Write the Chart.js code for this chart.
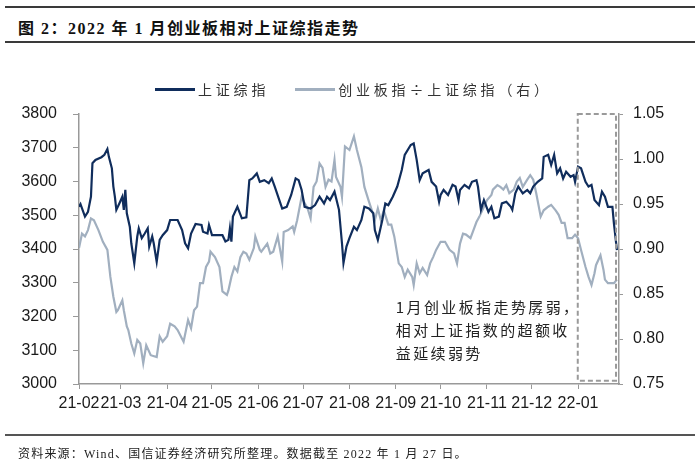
<!DOCTYPE html>
<html lang="zh">
<head>
<meta charset="UTF-8">
<title>创业板相对上证综指走势</title>
<style>
  body { margin:0; background:#fff; }
  #wrap { position:relative; width:700px; height:464px; overflow:hidden; }
  #myChart { position:absolute; left:0; top:0; }
  .rule { position:absolute; left:5px; width:690px; background:#3a3a3a; }
  #title { position:absolute; left:18px; top:15px; font:bold 16px "Liberation Serif","Noto Sans CJK SC",serif; letter-spacing:1.5px; color:#111; white-space:nowrap; }
  #footer { position:absolute; left:18px; top:444px; font:12px "Liberation Serif","Noto Sans CJK SC",serif; letter-spacing:1.2px; color:#222; white-space:nowrap; }
  #legend { position:absolute; left:155px; top:79px; display:flex; align-items:center; font:14px "Noto Sans CJK SC",sans-serif; letter-spacing:3.8px; color:#333; white-space:nowrap; }
  #legend .item { display:flex; align-items:center; margin-right:26px; }
  #legend .swatch { width:40px; height:3px; margin-right:3px; }
</style>
</head>
<body>
<div id="wrap">
  <div class="rule" style="top:6px;height:2px"></div>
  <div id="title">图 2：2022 年 1 月创业板相对上证综指走势</div>
  <div class="rule" style="top:41px;height:1.5px"></div>
  <canvas id="myChart" width="700" height="464"></canvas>
  <div id="legend"></div>
  <div class="rule" style="top:434px;height:1.5px;background:#555"></div>
  <div id="footer">资料来源：Wind、国信证券经济研究所整理。数据截至 2022 年 1 月 27 日。</div>
</div>

<script src="https://cdn.jsdelivr.net/npm/chart.js@4.4.1/dist/chart.umd.min.js"></script>
<script>
// x = 2021-02-01 起算的天数
var monthDays   = [0, 28, 59, 89, 120, 150, 181, 212, 242, 273, 303, 334];
var monthLabels = ['21-02','21-03','21-04','21-05','21-06','21-07','21-08','21-09','21-10','21-11','21-12','22-01'];
var xMax = 361.4;

// 上证综指
var szDays = [0,1,4,6,8,9,11,15,17,19,
  20,22,23,24,25,27,29,30,31,32,
  34,35,37,39,40,42,44,46,47,49,
  50,52,54,56,59,61,66,69,71,73,
  75,78,82,83,86,87,89,96,98,100,
  101,102,103,106,109,112,114,116,119,121,
  124,127,129,131,136,139,142,145,147,149,
  151,155,158,161,164,166,168,171,174,176,
  177,179,181,184,186,189,191,194,197,198,
  200,203,205,207,210,213,216,218,222,224,
  226,228,230,234,236,239,241,242,244,247,
  250,252,254,255,258,261,263,266,267,269,
  271,274,276,278,281,283,286,289,290,292,
  294,297,300,302,304,307,310,311,314,316,
  318,320,322,324,326,329,331,332,334,336,
  339,341,343,345,348,350,352,354,357,358,
  359,360];
var szVals = [3525,3533,3496,3510,3555,3654,3664,3672,3679,3696,
  3673,3639,3585,3555,3516,3535,3555,3516,3575,3506,
  3466,3417,3358,3437,3461,3432,3446,3461,3407,3437,
  3417,3362,3427,3441,3456,3486,3486,3456,3417,3402,
  3446,3474,3471,3451,3446,3471,3441,3441,3422,3427,
  3461,3422,3496,3525,3491,3494,3604,3609,3624,3599,
  3604,3595,3609,3585,3520,3525,3560,3609,3604,3575,
  3525,3520,3530,3555,3535,3555,3545,3570,3516,3417,
  3358,3407,3432,3466,3456,3486,3525,3520,3506,3456,
  3427,3486,3535,3530,3555,3585,3634,3679,3708,3713,
  3664,3604,3624,3634,3599,3585,3540,3560,3575,3560,
  3590,3585,3545,3575,3590,3580,3599,3604,3585,3516,
  3545,3510,3525,3491,3496,3535,3540,3525,3516,3565,
  3585,3565,3575,3565,3585,3599,3609,3673,3679,3649,
  3679,3624,3639,3609,3629,3614,3619,3599,3644,3639,
  3599,3585,3590,3545,3530,3570,3555,3525,3525,3476,
  3437,3397];

// 创业板指 ÷ 上证综指（右轴）
var ratioDays = [0,2,4,6,8,10,13,16,19,21,
  23,25,26,29,30,32,33,35,37,39,
  41,43,45,48,52,54,56,59,61,64,
  66,70,73,75,77,79,81,83,85,87,
  88,91,94,96,99,100,102,104,106,108,
  110,112,114,117,118,121,122,126,128,130,
  133,136,137,140,143,144,146,149,151,153,
  155,157,159,161,163,165,167,169,171,172,
  175,176,178,181,184,186,189,191,194,196,
  198,200,202,204,207,209,211,214,216,218,
  220,223,224,226,228,230,233,235,237,239,
  242,245,248,251,253,255,257,259,262,264,
  266,268,271,273,276,277,280,282,284,286,
  288,291,293,295,297,300,302,304,306,309,
  311,314,316,319,321,323,325,327,330,332,
  334,336,339,341,343,345,346,349,351,352,
  354,358,360];
var ratioVals = [0.901,0.917,0.914,0.921,0.934,0.932,0.921,0.908,0.899,0.869,
  0.847,0.830,0.832,0.843,0.832,0.814,0.810,0.795,0.784,0.799,
  0.795,0.773,0.793,0.782,0.780,0.803,0.797,0.803,0.817,0.814,
  0.810,0.797,0.821,0.812,0.832,0.836,0.862,0.862,0.880,0.886,
  0.897,0.891,0.880,0.853,0.849,0.854,0.869,0.880,0.875,0.891,
  0.897,0.895,0.888,0.901,0.914,0.899,0.897,0.906,0.895,0.897,
  0.914,0.886,0.919,0.921,0.925,0.919,0.932,0.958,0.951,0.945,
  0.934,0.969,0.975,0.995,0.990,0.969,0.977,0.975,0.999,0.980,
  0.969,0.958,1.014,1.010,1.025,1.010,0.991,0.969,0.953,0.943,
  0.932,0.945,0.932,0.943,0.927,0.927,0.914,0.884,0.880,0.869,
  0.877,0.869,0.860,0.884,0.873,0.879,0.871,0.884,0.891,0.899,
  0.908,0.908,0.899,0.895,0.884,0.906,0.917,0.916,0.912,0.921,
  0.930,0.936,0.947,0.954,0.960,0.966,0.971,0.969,0.966,0.971,
  0.962,0.966,0.975,0.979,0.969,0.977,0.982,0.977,0.962,0.936,
  0.943,0.947,0.949,0.943,0.938,0.929,0.929,0.912,0.912,0.916,
  0.912,0.899,0.880,0.869,0.860,0.873,0.882,0.893,0.877,0.866,
  0.862,0.862,0.866];

var noteLines = ['1月创业板指走势孱弱，', '相对上证指数的超额收', '益延续弱势'];

function f_points(days, vals){
    var arr = [];
    for(var i=0; i<days.length; i++){
        arr.push({x: days[i], y: vals[i]});
    }
    return arr;
}

// 虚线框 + 文字说明
var notePlugin = {
    id: 'notePlugin',
    afterDatasetsDraw: function(chart){
        var c = chart.ctx, xs = chart.scales.x, ys = chart.scales.y;
        var x1 = xs.getPixelForValue(333.8), x2 = xs.getPixelForValue(359.4);
        var y1 = ys.getPixelForValue(3800), y2 = ys.getPixelForValue(3010);
        c.save();
        c.setLineDash([5, 3]);
        c.lineWidth = 2;
        c.strokeStyle = '#9a9a9a';
        c.strokeRect(x1, y1, x2 - x1, y2 - y1);
        c.setLineDash([]);
        c.font = '15px "Noto Sans CJK SC", sans-serif';
        c.fillStyle = '#222';
        c.textBaseline = 'middle';
        c.letterSpacing = '2.4px';
        var tx = xs.getPixelForValue(212), ty = ys.getPixelForValue(3228);
        for(var i=0; i<noteLines.length; i++){
            c.fillText(noteLines[i], tx, ty + i*23);
        }
        c.restore();
    }
};

var tickFont = {family: '"Liberation Sans", Arial, sans-serif', size: 16};

const ctx = document.getElementById('myChart').getContext('2d');
const myChart = new Chart(ctx, {
    type: 'line',
    data: {
        datasets: [{
            label: '上证综指',
            data: f_points(szDays, szVals),
            borderColor: '#102d5c',
            backgroundColor: '#102d5c',
            borderWidth: 2.2,
            yAxisID: 'y'
        },{
            label: '创业板指÷上证综指（右）',
            data: f_points(ratioDays, ratioVals),
            borderColor: '#a1afbf',
            backgroundColor: '#a1afbf',
            borderWidth: 2.2,
            yAxisID: 'y1'
        }]
    },
    options: {
        responsive: false,
        animation: false,
        devicePixelRatio: 1,
        layout: { padding: {top: 114, bottom: 0, left: 0, right: 0} },
        elements: { point: {radius: 0}, line: {tension: 0} },
        plugins: { legend: {display: false}, tooltip: {enabled: false} },
        scales: {
            x: {
                type: 'linear',
                min: 0,
                max: xMax,
                afterBuildTicks: function(scale){
                    scale.ticks = monthDays.map(function(d){ return {value: d}; });
                },
                afterFit: function(scale){ scale.height = 80; },
                grid: {drawOnChartArea: false, drawTicks: true, tickLength: 5, color: '#999'},
                border: {color: '#999', width: 1.5},
                ticks: {
                    autoSkip: false, maxRotation: 0, padding: 5,
                    color: '#1a1a1a', font: tickFont,
                    callback: function(v){
                        var i = monthDays.indexOf(v);
                        return i >= 0 ? monthLabels[i] : '';
                    }
                }
            },
            y: {
                position: 'left',
                min: 3000, max: 3800,
                afterFit: function(scale){ scale.width = 79; },
                grid: {drawOnChartArea: false, drawTicks: true, tickLength: 6, color: '#999'},
                border: {color: '#999', width: 1.5},
                ticks: {
                    stepSize: 100, padding: 16, color: '#1a1a1a', font: tickFont,
                    callback: function(v){ return String(v); }
                }
            },
            y1: {
                position: 'right',
                min: 0.75, max: 1.05,
                afterFit: function(scale){ scale.width = 81; },
                grid: {drawOnChartArea: false, drawTicks: true, tickLength: 4, color: '#999'},
                border: {color: '#999', width: 1.5},
                ticks: {
                    stepSize: 0.05, padding: 10, color: '#1a1a1a', font: tickFont,
                    callback: function(v){ return v.toFixed(2); }
                }
            }
        }
    },
    plugins: [notePlugin]
});

// html 图例
var lg = document.getElementById('legend');
myChart.data.datasets.forEach(function(ds){
    var item = document.createElement('div');
    item.className = 'item';
    item.innerHTML = '<span class="swatch" style="background:' + ds.borderColor + '"></span><span>' + ds.label + '</span>';
    lg.appendChild(item);
});
</script>
</body>
</html>
